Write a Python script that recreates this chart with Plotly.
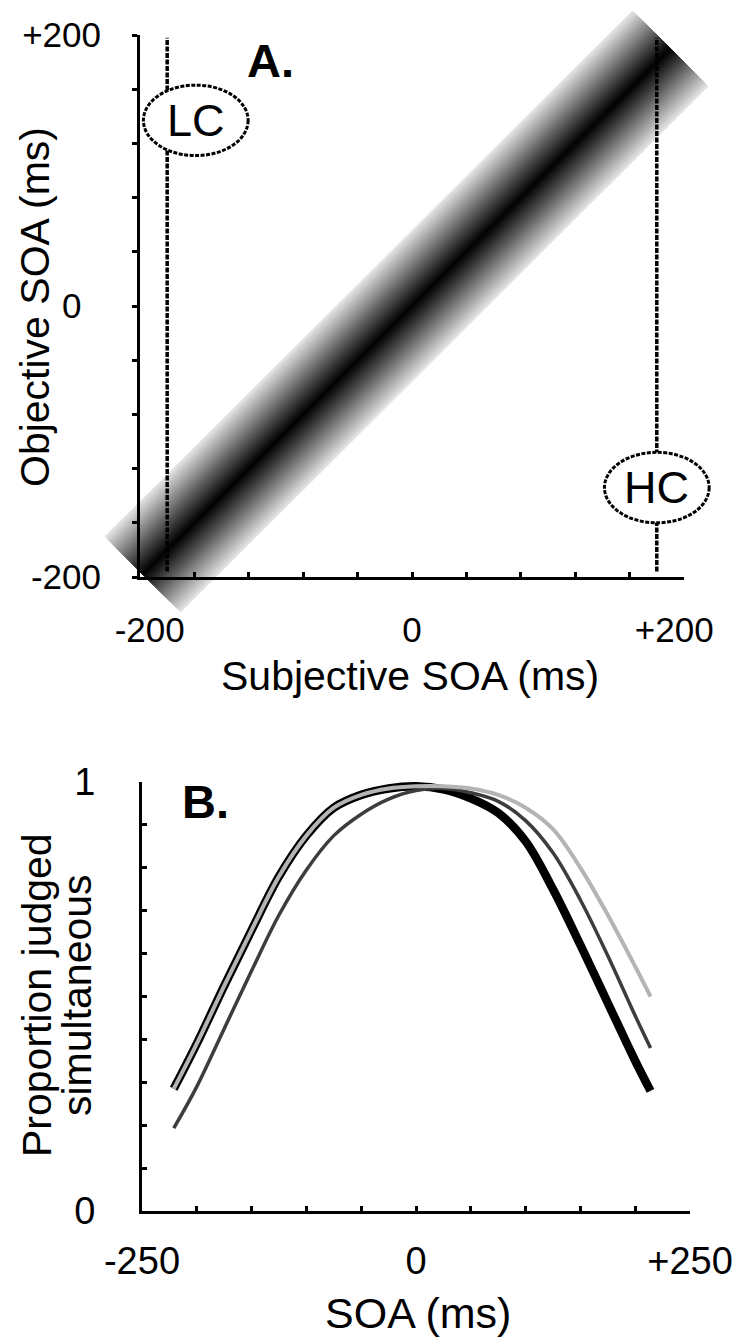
import numpy as np
import plotly.graph_objects as go

# ---------------- data ----------------
# Panel A
A_TICKS = list(range(-200, 201, 40))
A_Y_LABELS = {-200: "-200", 0: "0\u00a0\u00a0", 200: "+200"}
A_X_LABELS = {-200: "\u00a0\u00a0-200", 0: "0", 200: "+200\u00a0\u00a0"}
CRITERION_SOA = [-180, 180]          # LC / HC criterion lines (subjective SOA)
CRITERION_Y = [-196, 198]
CRITERION_NAMES = ["LC", "HC"]
LABEL_X = [-159, 180]
LABEL_Y = [137, -134]
BAND_START = -198
BAND_END = 190
BAND_HALF = 28

# Panel B
SOA = [-221, -200, -175, -150, -125, -100, -75, -50, -25, 0, 25, 50, 75, 100, 125, 150, 175, 200, 214]
BLACK = [0.285, 0.39, 0.525, 0.655, 0.78, 0.875, 0.94, 0.97, 0.985, 0.99, 0.983, 0.962, 0.928, 0.862, 0.75, 0.62, 0.485, 0.35, 0.28]
LIGHT = [0.285, 0.39, 0.525, 0.655, 0.78, 0.875, 0.94, 0.97, 0.985, 0.99, 0.99, 0.985, 0.97, 0.94, 0.89, 0.80, 0.69, 0.57, 0.50]
DARK = [0.193, 0.29, 0.425, 0.56, 0.69, 0.795, 0.875, 0.925, 0.96, 0.98, 0.985, 0.975, 0.955, 0.91, 0.835, 0.725, 0.595, 0.455, 0.38]
B_X_TICKS = list(range(-250, 251, 50))
B_X_LABELS = {-250: "-250", 0: "0", 250: "+250"}
B_Y_TICKS = [round(i / 10, 1) for i in range(11)]
B_Y_LABELS = {0.0: "0", 1.0: "1"}

# ---------------- layout helpers ----------------
W, H = 746, 1342
FONT = "Liberation Sans, Arial, sans-serif"


def fx(px):
    return px / W


def fy(py):
    return 1 - py / H


# panel A pixel frame
AX0, AX1, AYT, AYB = 140, 684, 35, 577
sx = (AX1 - AX0) / 400.0
sy = (AYB - AYT) / 400.0
EXT_X = [-232, 230]
EXT_Y = [-232, 224]

fig = go.Figure()

# ---- band (subplot 1, extended range, hidden axes) ----
n_steps = 45
for i in range(n_steps):
    frac = 1 - i / n_steps
    h = BAND_HALF * frac
    g = int(round(228 * frac ** 1.05))
    xs = [BAND_START - h, BAND_START + h, BAND_END + h, BAND_END - h, BAND_START - h]
    ys = [BAND_START + h, BAND_START - h, BAND_END - h, BAND_END + h, BAND_START + h]
    fig.add_trace(go.Scatter(x=xs, y=ys, mode="lines", fill="toself",
                             fillcolor=f"rgb({g},{g},{g})",
                             line=dict(width=0, color=f"rgb({g},{g},{g})"),
                             hoverinfo="skip", showlegend=False,
                             xaxis="x", yaxis="y"))

# ---- criterion lines (subplot 2) ----
for xc in CRITERION_SOA:
    fig.add_trace(go.Scatter(x=[xc, xc], y=CRITERION_Y, mode="lines",
                             line=dict(color="black", width=3.5, dash="5px,1.5px"),
                             hoverinfo="skip", showlegend=False,
                             xaxis="x2", yaxis="y2"))

# ---- ellipses (shapes on subplot 1) and labels ----
shapes = []
annotations = []
for name, cx, cy in zip(CRITERION_NAMES, LABEL_X, LABEL_Y):
    rx, ry = 38.5, 26
    shapes.append(dict(type="circle", xref="x", yref="y",
                       x0=cx - rx, x1=cx + rx, y0=cy - ry, y1=cy + ry,
                       line=dict(color="black", width=3, dash="4px,1.5px"),
                       fillcolor="white", layer="above"))
    annotations.append(dict(x=cx, y=cy, xref="x", yref="y", text=name,
                            showarrow=False,
                            font=dict(family=FONT, size=45, color="black")))

# ---- panel B curves (subplot 3) ----
fig.add_trace(go.Scatter(x=SOA, y=BLACK, mode="lines", line=dict(color="black", width=8.5, shape="spline"),
                         hoverinfo="skip", showlegend=False, xaxis="x3", yaxis="y3"))
fig.add_trace(go.Scatter(x=SOA, y=DARK, mode="lines", line=dict(color="#3d3d3d", width=3.5, shape="spline"),
                         hoverinfo="skip", showlegend=False, xaxis="x3", yaxis="y3"))
fig.add_trace(go.Scatter(x=SOA, y=LIGHT, mode="lines", line=dict(color="#b4b4b4", width=4, shape="spline"),
                         hoverinfo="skip", showlegend=False, xaxis="x3", yaxis="y3"))

common = dict(showgrid=False, zeroline=False, showline=True, linecolor="black", linewidth=3,
              tickcolor="black", tickwidth=2.5, ticklen=5, fixedrange=True,
              automargin=False)
tf_a = dict(family=FONT, size=35, color="black")
tf_b = dict(family=FONT, size=38, color="black")

fig.update_layout(
    width=W, height=H,
    margin=dict(l=0, r=0, t=0, b=0, autoexpand=False),
    paper_bgcolor="white", plot_bgcolor="rgba(0,0,0,0)",
    showlegend=False,
    xaxis=dict(domain=[fx(AX0 + (EXT_X[0] + 200) * sx), fx(AX0 + (EXT_X[1] + 200) * sx)],
               range=EXT_X, visible=False, anchor="y", fixedrange=True),
    yaxis=dict(domain=[fy(AYB - (EXT_Y[0] + 200) * sy), fy(AYB - (EXT_Y[1] + 200) * sy)],
               range=EXT_Y, visible=False, anchor="x", fixedrange=True),
    xaxis2=dict(domain=[fx(AX0), fx(AX1)], range=[-200, 200], anchor="y2",
                tickmode="array", tickvals=A_TICKS,
                ticktext=[A_X_LABELS.get(v, "") for v in A_TICKS],
                ticks="inside", ticklabelstandoff=20, tickfont=tf_a, **common),
    yaxis2=dict(domain=[fy(AYB), fy(AYT)], range=[-200, 200], anchor="x2",
                tickmode="array", tickvals=A_TICKS,
                ticktext=[A_Y_LABELS.get(v, "") for v in A_TICKS],
                ticks="outside", ticklabelstandoff=24, tickfont=tf_a, **common),
    xaxis3=dict(domain=[fx(142), fx(690)], range=[-250, 250], anchor="y3",
                tickmode="array", tickvals=B_X_TICKS,
                ticktext=[B_X_LABELS.get(v, "") for v in B_X_TICKS],
                ticks="inside", ticklabelstandoff=14, tickfont=tf_b, **common),
    yaxis3=dict(domain=[fy(1211), fy(782)], range=[0, 1], anchor="x3",
                tickmode="array", tickvals=B_Y_TICKS,
                ticktext=[B_Y_LABELS.get(v, "") for v in B_Y_TICKS],
                ticks="inside", ticklabelstandoff=36, tickfont=tf_b, **common),
    shapes=shapes,
)

title_font = dict(family=FONT, size=41, color="black")
annotations += [
    dict(x=fx(35), y=fy(307), xref="paper", yref="paper", text="Objective SOA (ms)",
         textangle=-90, showarrow=False, font=title_font, xanchor="center", yanchor="middle"),
    dict(x=fx(410), y=fy(676), xref="paper", yref="paper", text="Subjective SOA (ms)",
         showarrow=False, font=title_font, xanchor="center", yanchor="middle"),
    dict(x=fx(37), y=fy(995), xref="paper", yref="paper", text="Proportion judged",
         textangle=-90, showarrow=False, font=title_font, xanchor="center", yanchor="middle"),
    dict(x=fx(77), y=fy(995), xref="paper", yref="paper", text="simultaneous",
         textangle=-90, showarrow=False, font=title_font, xanchor="center", yanchor="middle"),
    dict(x=fx(418), y=fy(1313), xref="paper", yref="paper", text="SOA (ms)",
         showarrow=False, font=dict(family=FONT, size=43, color="black"),
         xanchor="center", yanchor="middle"),
    dict(x=fx(245), y=fy(60), xref="paper", yref="paper", text="<b>A.</b>",
         showarrow=False, font=dict(family=FONT, size=47, color="black"), xanchor="left", yanchor="middle"),
    dict(x=fx(180), y=fy(801), xref="paper", yref="paper", text="<b>B.</b>",
         showarrow=False, font=dict(family=FONT, size=47, color="black"), xanchor="left", yanchor="middle"),
]
fig.update_layout(annotations=annotations)

fig.write_html("out.html", config={"displayModeBar": False},
               post_script="document.body.style.margin='0';")
